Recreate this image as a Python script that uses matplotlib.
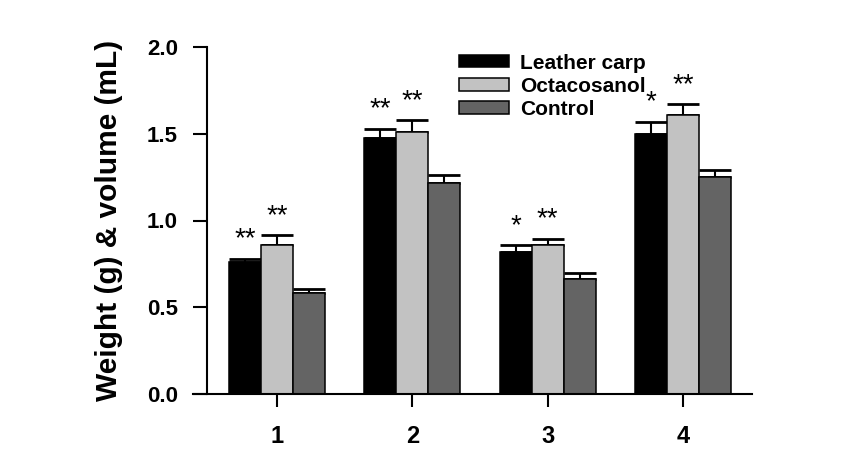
import numpy as np
import matplotlib.pyplot as plt

plt.rcParams['font.family'] = ['Liberation Sans', 'DejaVu Sans']
plt.rcParams['font.weight'] = 'bold'

groups = ['1', '2', '3', '4']
series = ['Leather carp', 'Octacosanol', 'Control']
colors = ['#000000', '#c2c2c2', '#646464']

leather = [0.76, 1.475, 0.82, 1.50]
octa = [0.86, 1.51, 0.86, 1.61]
control = [0.58, 1.215, 0.66, 1.25]
leather_err = [0.02, 0.055, 0.04, 0.07]
octa_err = [0.055, 0.07, 0.035, 0.06]
control_err = [0.025, 0.05, 0.04, 0.04]

leather_sig = ['**', '**', '*', '*']
octa_sig = ['**', '**', '**', '**']

values = [leather, octa, control]
errors = [leather_err, octa_err, control_err]
sigs = [leather_sig, octa_sig, None]

fig = plt.figure(figsize=(8.47, 4.62), dpi=100)
ax = fig.add_axes([193/847, 1 - 394/462, (752-193)/847, (394-47)/462])

x = np.arange(len(groups))
w = 0.2365
for i, (name, vals, errs, col) in enumerate(zip(series, values, errors, colors)):
    pos = x + (i - 1) * w
    ax.bar(pos, vals, w, color=col, edgecolor='black', linewidth=1.1, label=name, zorder=2)
    ax.errorbar(pos, vals, yerr=[np.zeros(len(vals)), errs], fmt='none',
                ecolor='black', elinewidth=1.5, capsize=11.5, capthick=2, zorder=1)
    if sigs[i] is not None:
        for p, v, e, s in zip(pos, vals, errs, sigs[i]):
            ax.text(p, v + e + 0.035, s, ha='center', va='bottom', fontsize=20,
                    fontweight='normal')

ax.set_xlim(-0.621, 3.511)
ax.set_ylim(0, 2.0)
ax.set_yticks([0.0, 0.5, 1.0, 1.5, 2.0])
ax.set_yticklabels(['0.0', '0.5', '1.0', '1.5', '2.0'])
ax.set_xticks(x)
ax.set_xticklabels(groups)
ax.tick_params(axis='y', labelsize=16, width=1.5, length=10, pad=11, direction='out')
ax.tick_params(axis='x', labelsize=17, width=1.5, length=9.5, pad=13, direction='out')
for lab in ax.get_xticklabels() + ax.get_yticklabels():
    lab.set_fontweight('bold')

ax.spines['top'].set_visible(False)
ax.spines['right'].set_visible(False)
ax.spines['left'].set_position(('data', -0.517))
ax.spines['left'].set_linewidth(1.5)
ax.spines['bottom'].set_linewidth(1.5)

ax.set_ylabel('Weight (g) & volume (mL)', fontsize=21.5, fontweight='bold')
ax.yaxis.set_label_coords(-0.125, 0.5)

leg = ax.legend(loc='upper left', bbox_to_anchor=(0.442, 1.035), frameon=False,
                prop={'size': 15, 'weight': 'bold'}, handlelength=2.4,
                handleheight=0.53, labelspacing=0.2, handletextpad=0.53)

fig.savefig('out.png', dpi=100)
